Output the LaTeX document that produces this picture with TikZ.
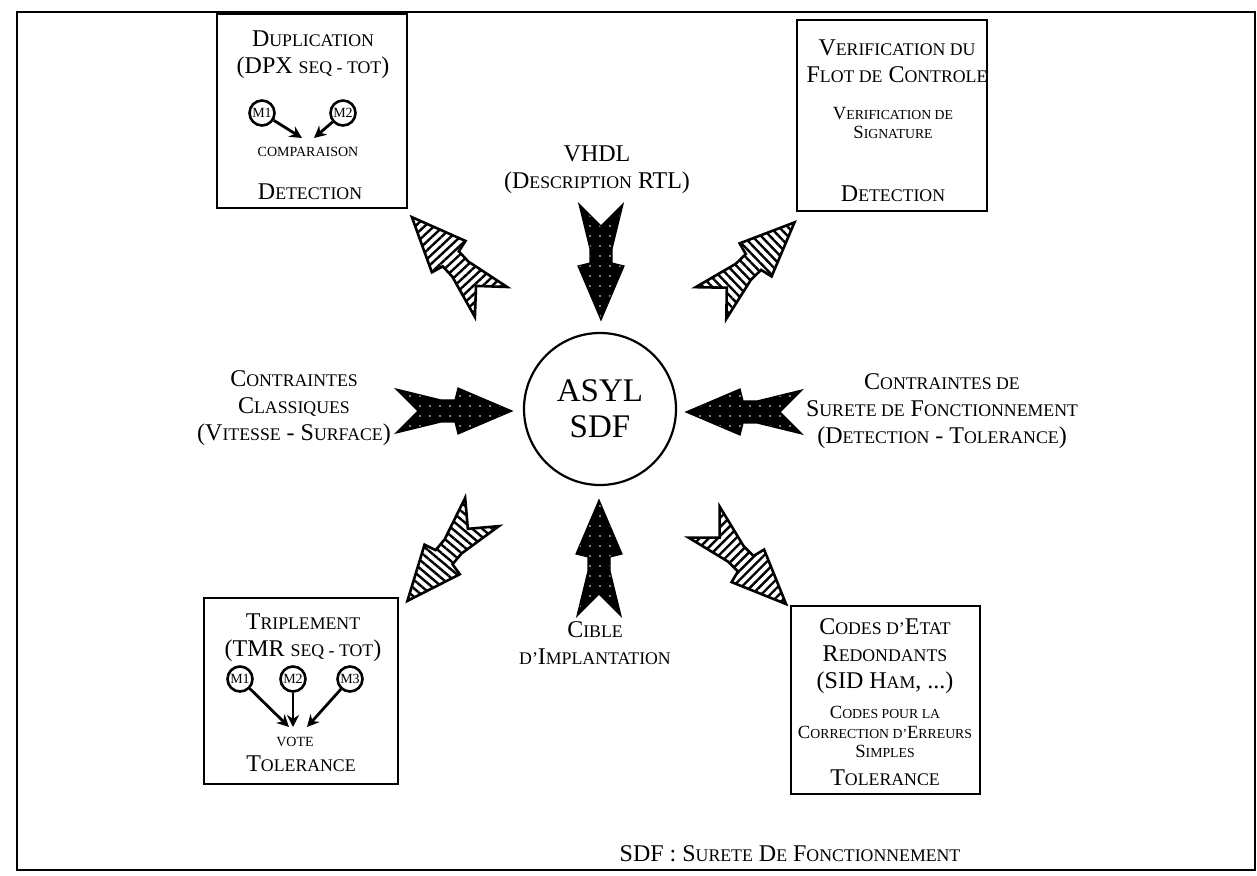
\documentclass[tikz,border=0pt]{standalone}
\usepackage{fontspec}
\setmainfont{Liberation Serif}
\usetikzlibrary{calc,arrows.meta,patterns.meta}

% fake small caps: smaller upper case letters
\makeatletter
\newcommand\sm[1]{{\fontsize{\the\dimexpr0.74\dimexpr\f@size pt\relax\relax}{\f@baselineskip}\selectfont #1}}
\makeatother

% fat double-headed arrow, tail at #2, turned by #3
\newcommand\fatarrow[3]{\draw[#1, shift={#2}, rotate=#3] (0,22) -- (22,0) -- (0,-22) -- (45,-11) -- (59,-11) -- (62,-23) -- (116,0) -- (62,23) -- (59,11) -- (45,11) -- cycle;}

\begin{document}
\begin{tikzpicture}[x=0.5pt, y=-0.5pt,
    box/.style={draw, line width=1.3pt, inner sep=0pt},
    lbl/.style={inner sep=0pt, align=center, font=\fontsize{12}{13.4}\selectfont},
    sub/.style={inner sep=0pt, align=center, font=\fontsize{9.3}{9.8}\selectfont},
    note/.style={inner sep=0pt, font=\fontsize{7}{8}\selectfont},
    mod/.style={draw, circle, line width=1.3pt, minimum size=12.5pt, inner sep=0pt, font=\fontsize{7}{7}\selectfont},
    vote/.style={-{Stealth[length=6pt,width=6pt]}, line width=1.4pt},
    dark/.style={preaction={fill=black}, pattern={Dots[distance=5pt,radius=0.45pt]}, pattern color=white, draw=black, line width=0.6pt, line join=miter},
    hatch/.style={preaction={fill=white}, pattern={Lines[angle=#1,distance=3.2pt,line width=1.2pt]}, draw=black, line width=1.3pt, line join=miter}]
    \useasboundingbox (0,0) rectangle (1257,876);
    \draw[line width=1.3pt] (17,12) rectangle (1255,870);

    % centre
    \node[draw, circle, line width=1.1pt, minimum size=76pt, inner sep=0pt, align=center, font=\fontsize{16.5}{18}\selectfont] (core) at (600,409) {ASYL\\SDF};

    % boxes
    \node[box, minimum width=95pt, minimum height=97pt] (dup) at (312,111) {};
    \node[box, minimum width=95pt, minimum height=95.5pt] (ver) at (892,115.5) {};
    \node[box, minimum width=97pt, minimum height=93pt] (tri) at (301,691) {};
    \node[box, minimum width=94.5pt, minimum height=94pt] (cod) at (885.5,700) {};

    % duplication
    \node[lbl] (dupT) at (313,55) {D\sm{UPLICATION}\\(DPX \sm{SEQ - TOT})};
    \node[mod] (m1) at (262,113) {M1};
    \node[mod] (m2) at (343,113) {M2};
    \coordinate (cmpL) at (302,138);
    \coordinate (cmpR) at (314,138);
    \draw[vote] (m1) -- (cmpL);
    \draw[vote] (m2) -- (cmpR);
    \node[note] (cmp) at (308,152) {COMPARAISON};
    \node[lbl] (dupD) at (310,192) {D\sm{ETECTION}};

    % verification
    \node[lbl] (verT) at (897,61) {V\sm{ERIFICATION DU}\\F\sm{LOT DE} C\sm{ONTROLE}};
    \node[sub] (verS) at (893,123) {V\sm{ERIFICATION DE}\\S\sm{IGNATURE}};
    \node[lbl] (verD) at (893,194) {D\sm{ETECTION}};

    % triplement
    \node[lbl] (triT) at (303,638) {T\sm{RIPLEMENT}\\(TMR \sm{SEQ - TOT})};
    \node[mod] (m1t) at (240,679) {M1};
    \node[mod] (m2t) at (293,679) {M2};
    \node[mod] (m3t) at (350,679) {M3};
    \coordinate (vL) at (289,727);
    \coordinate (vM) at (293,727);
    \coordinate (vR) at (307,727);
    \draw[vote] (m1t) -- (vL);
    \draw[vote] (m2t) -- (vM);
    \draw[vote] (m3t) -- (vR);
    \node[note] (vot) at (295,742) {VOTE};
    \node[lbl] (triD) at (301,764) {T\sm{OLERANCE}};

    % codes
    \node[lbl] (codT) at (885,656) {C\sm{ODES D'}E\sm{TAT}\\R\sm{EDONDANTS}\\(SID H\sm{AM}, ...)};
    \node[sub] (codS) at (885,732) {C\sm{ODES POUR LA}\\C\sm{ORRECTION D'}E\sm{RREURS}\\S\sm{IMPLES}};
    \node[lbl] (codD) at (885,778) {T\sm{OLERANCE}};

    % inputs
    \node[lbl] (vhdl) at (597,170) {VHDL\\(D\sm{ESCRIPTION} RTL)};
    \node[lbl] (cls) at (294,408) {C\sm{ONTRAINTES}\\C\sm{LASSIQUES}\\(V\sm{ITESSE} - S\sm{URFACE})};
    \node[lbl] (sdf) at (942,411) {C\sm{ONTRAINTES DE}\\S\sm{URETE DE} F\sm{ONCTIONNEMENT}\\(D\sm{ETECTION} - T\sm{OLERANCE})};
    \node[lbl] (cib) at (595,643) {C\sm{IBLE}\\\sm{D'}I\sm{MPLANTATION}};
    \node[lbl] (key) at (790,854) {SDF : S\sm{URETE} D\sm{E} F\sm{ONCTIONNEMENT}};

    % fat arrows
    \coordinate (aV) at (601,204);
    \coordinate (aNW) at (491,302);
    \coordinate (aNE) at (711,303);
    \coordinate (aW) at (396,411);
    \coordinate (aE) at (802,412);
    \coordinate (aSW) at (482,512);
    \coordinate (aS) at (599,616);
    \coordinate (aSE) at (704,522);
    \fatarrow{dark}{(aV)}{-90}
    \fatarrow{hatch=43}{(aNW)}{133}
    \fatarrow{hatch=134}{(aNE)}{44}
    \fatarrow{dark}{(aW)}{0}
    \fatarrow{dark}{(aE)}{180}
    \fatarrow{hatch=140}{(aSW)}{230}
    \fatarrow{dark}{(aS)}{90}
    \fatarrow{hatch=45}{(aSE)}{-45}
\end{tikzpicture}
\end{document}
